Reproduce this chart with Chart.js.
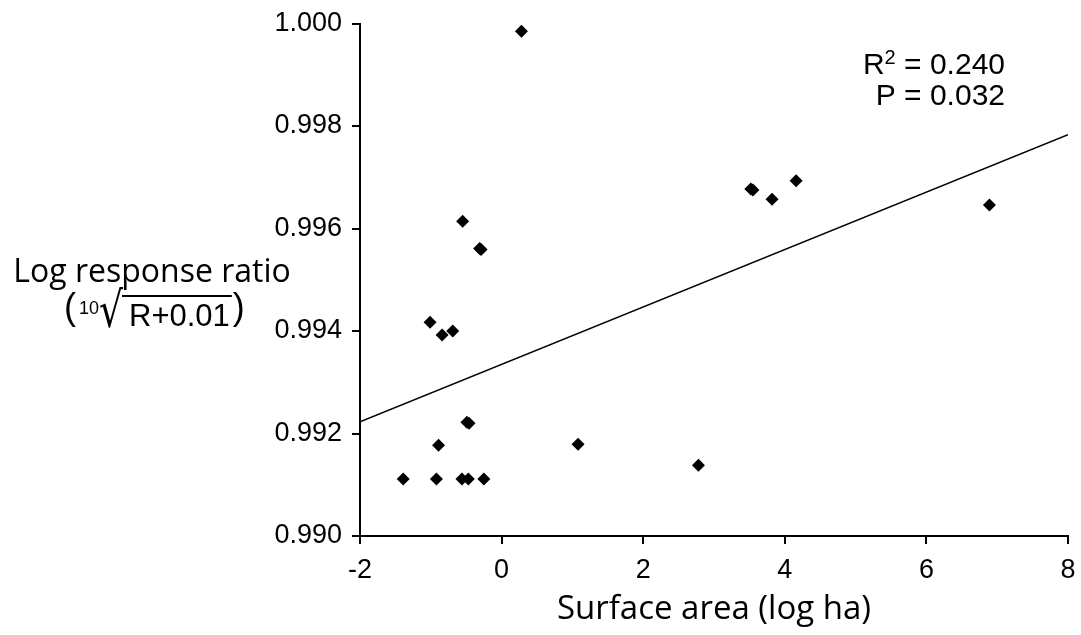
<!DOCTYPE html>
<html>
<head>
<meta charset="utf-8">
<script src="https://cdn.jsdelivr.net/npm/chart.js@4.4.1/dist/chart.umd.min.js"></script>
<style>
html, body { margin: 0; padding: 0; background: #fff; }
#wrap { width: 1081px; height: 635px; }
</style>
</head>
<body>
<div id="wrap"><canvas id="chart"></canvas></div>
<script>
// surface area (log ha) and log response ratio
var surfaceArea = [0.28, 3.52, 3.55, 3.82, 4.16, 6.89, -0.55, -0.31, -0.29, -1.01, -0.84, -0.69,
                   -0.49, -0.46, -0.89, 1.08, 2.78, -1.39, -0.92, -0.56, -0.47, -0.25];
var logResponse = [0.99985, 0.99677, 0.99675, 0.99657, 0.99693, 0.99646, 0.99614, 0.99561, 0.99559, 0.99417, 0.99392, 0.99400,
                   0.99222, 0.99220, 0.99177, 0.99179, 0.99138, 0.99111, 0.99111, 0.99111, 0.99111, 0.99111];
var trendX = [-2, 8];
var trendY = [0.99223, 0.99783];
var xTicks = [-2, 0, 2, 4, 6, 8];
var yTicks = [0.990, 0.992, 0.994, 0.996, 0.998, 1.000];
var statR2 = '0.240';
var statP = '0.032';

var points = surfaceArea.map(function (x, i) { return { x: x, y: logResponse[i] }; });
var trend = trendX.map(function (x, i) { return { x: x, y: trendY[i] }; });

var arial = 'Liberation Sans, Arial, sans-serif';
var titleFamily = '"Open Sans", "Noto Sans", sans-serif';
var tickFont = { family: arial, size: 27, lineHeight: 1 };

// text outside the scales: y title (two lines, horizontal) and the stats
var extraText = {
    id: 'extraText',
    afterDraw: function (chart) {
        var ctx = chart.ctx;
        ctx.save();
        ctx.fillStyle = '#000';
        ctx.strokeStyle = '#000';
        ctx.textBaseline = 'alphabetic';

        // y title, first line
        ctx.font = '32px ' + titleFamily;
        ctx.textAlign = 'center';
        ctx.fillText('Log response ratio', 152, 282);

        // second line: (10√R+0.01)
        ctx.textAlign = 'left';
        ctx.font = '36px ' + arial;
        ctx.fillText('(', 64, 319);
        ctx.font = '18px ' + arial;
        ctx.fillText('10', 79, 314);
        ctx.save();
        ctx.translate(99, 327);
        ctx.scale(1.35, 1.75);
        ctx.font = '28px DejaVu Sans, sans-serif';
        ctx.fillText('\u221A', 0, 0);
        ctx.restore();
        ctx.font = '31px ' + arial;
        var w = ctx.measureText('R+0.01').width;
        ctx.fillText('R+0.01', 129, 326);
        ctx.lineWidth = 2;
        ctx.beginPath();
        ctx.moveTo(122, 296);
        ctx.lineTo(129 + w + 2, 296);
        ctx.stroke();
        ctx.font = '36px ' + arial;
        ctx.fillText(')', 129 + w + 3, 319);

        // stats
        var right = 1005;
        ctx.textAlign = 'right';
        ctx.font = '30px ' + arial;
        ctx.fillText('= ' + statR2, right, 74);
        var wEq = ctx.measureText('= ' + statR2).width;
        var wSp = ctx.measureText(' ').width;
        ctx.font = '20px ' + arial;
        var x2 = right - wEq - wSp;
        ctx.fillText('2', x2, 64);
        var w2 = ctx.measureText('2').width;
        ctx.font = '30px ' + arial;
        ctx.fillText('R', x2 - w2, 74);
        ctx.fillText('P = ' + statP, right, 105);
        ctx.restore();
    }
};

new Chart(document.getElementById('chart'), {
    type: 'scatter',
    data: {
        datasets: [{
            data: points,
            pointStyle: 'rectRot',
            pointRadius: 6.5,
            pointHoverRadius: 6.5,
            backgroundColor: '#000',
            borderColor: '#000',
            borderWidth: 0
        }, {
            type: 'line',
            data: trend,
            borderColor: '#000',
            borderWidth: 1.5,
            pointRadius: 0,
            fill: false
        }]
    },
    options: {
        responsive: true,
        maintainAspectRatio: false,
        animation: false,
        events: [],
        layout: { padding: { left: 0, right: 0, top: 0, bottom: 0 } },
        plugins: { legend: { display: false }, tooltip: { enabled: false } },
        scales: {
            x: {
                type: 'linear',
                min: -2,
                max: 8,
                afterBuildTicks: function (s) { s.ticks = xTicks.map(function (v) { return { value: v }; }); },
                afterFit: function (s) { s.height = 99; s.paddingRight = 13; },
                border: { color: '#000', width: 2 },
                grid: { drawOnChartArea: false, color: '#000', tickLength: 8, lineWidth: 2 },
                ticks: { color: '#000', font: tickFont, padding: 13, maxRotation: 0 },
                title: { display: true, text: 'Surface area (log ha)', color: '#000',
                         font: { family: titleFamily, size: 33 }, padding: { top: 0, bottom: 6 } }
            },
            y: {
                type: 'linear',
                min: 0.990,
                max: 1.000,
                afterBuildTicks: function (s) { s.ticks = yTicks.map(function (v) { return { value: v }; }); },
                afterFit: function (s) { s.width = 360; },
                border: { color: '#000', width: 2 },
                grid: { drawOnChartArea: false, color: '#000', tickLength: 8, lineWidth: 2 },
                ticks: { color: '#000', font: tickFont, padding: 10,
                         callback: function (v) { return v.toFixed(3); } }
            }
        }
    },
    plugins: [extraText]
});
</script>
</body>
</html>
